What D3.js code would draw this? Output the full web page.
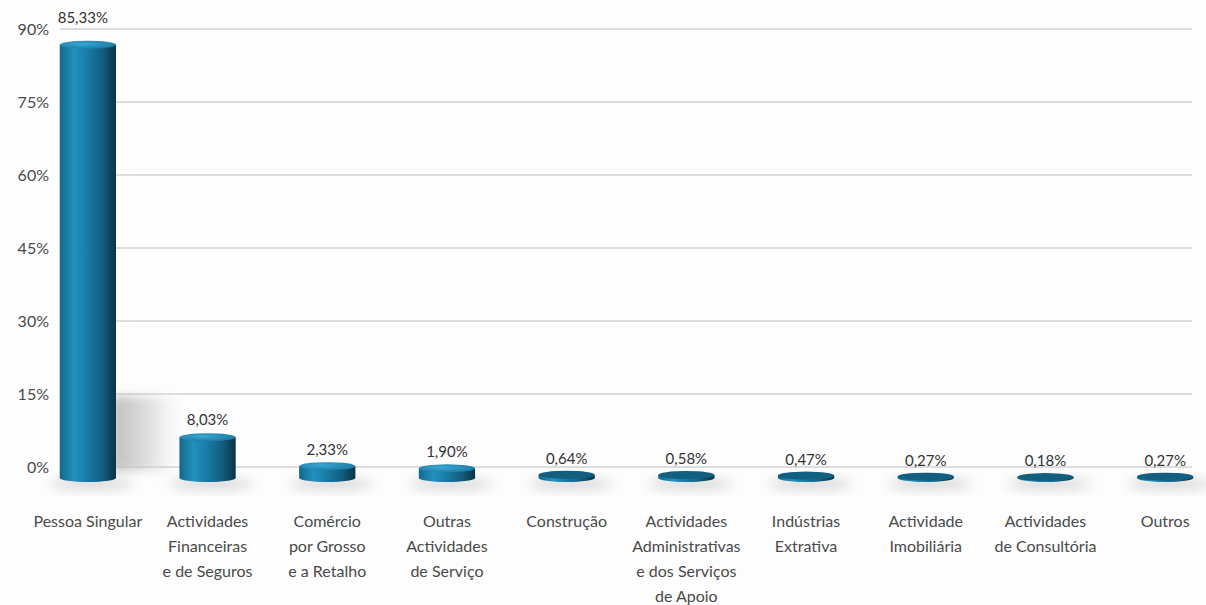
<!DOCTYPE html>
<html>
<head>
<meta charset="utf-8">
<script src="https://cdn.jsdelivr.net/npm/d3@7"></script>
<style>
    body { margin: 0; background: #fdfdfd; }
    text { font-family: Lato, "Open Sans", sans-serif; fill: #4a4a4a; }
    .grid line { stroke: #bdbdbd; stroke-width: 1.2; }
</style>
</head>
<body>
<div id="chart"></div>
<script>
// data
const categories = [
    ["Pessoa Singular"],
    ["Actividades", "Financeiras", "e de Seguros"],
    ["Comércio", "por Grosso", "e a Retalho"],
    ["Outras", "Actividades", "de Serviço"],
    ["Construção"],
    ["Actividades", "Administrativas", "e dos Serviços", "de Apoio"],
    ["Indústrias", "Extrativa"],
    ["Actividade", "Imobiliária"],
    ["Actividades", "de Consultória"],
    ["Outros"]
];
const values = [85.33, 8.03, 2.33, 1.90, 0.64, 0.58, 0.47, 0.27, 0.18, 0.27];
const valueLabels = ["85,33%", "8,03%", "2,33%", "1,90%", "0,64%", "0,58%", "0,47%", "0,27%", "0,18%", "0,27%"];
const yTicks = [0, 15, 30, 45, 60, 75, 90];

const width = 1206, height = 605;

const svg = d3.select("#chart").append("svg")
    .attr("width", width)
    .attr("height", height);

const defs = svg.append("defs");

// cylinder side shading
const sideGrad = defs.append("linearGradient").attr("id", "side").attr("x1", 0).attr("x2", 1).attr("y1", 0).attr("y2", 0);
sideGrad.append("stop").attr("offset", "0%").attr("stop-color", "#14688c");
sideGrad.append("stop").attr("offset", "25%").attr("stop-color", "#2290bd");
sideGrad.append("stop").attr("offset", "45%").attr("stop-color", "#1a7fab");
sideGrad.append("stop").attr("offset", "75%").attr("stop-color", "#125f80");
sideGrad.append("stop").attr("offset", "100%").attr("stop-color", "#0a3346");

const topGrad = defs.append("radialGradient").attr("id", "topg").attr("cx", "40%").attr("cy", "40%").attr("r", "65%");
topGrad.append("stop").attr("offset", "0%").attr("stop-color", "#3aa6d4");
topGrad.append("stop").attr("offset", "100%").attr("stop-color", "#1a7aa3");

// shadow cast by the tall bar
const shadeGrad = defs.append("linearGradient").attr("id", "shade").attr("x1", 0).attr("x2", 1).attr("y1", 0).attr("y2", 0);
shadeGrad.append("stop").attr("offset", "0%").attr("stop-color", "#b4b4b4").attr("stop-opacity", 0.9);
shadeGrad.append("stop").attr("offset", "50%").attr("stop-color", "#c8c8c8").attr("stop-opacity", 0.6);
shadeGrad.append("stop").attr("offset", "100%").attr("stop-color", "#e0e0e0").attr("stop-opacity", 0);

const blur = defs.append("filter").attr("id", "blur").attr("x", "-50%").attr("y", "-50%").attr("width", "200%").attr("height", "200%");
blur.append("feGaussianBlur").attr("stdDeviation", 6);
const blurSoft = defs.append("filter").attr("id", "blurSoft").attr("x", "-30%").attr("y", "-30%").attr("width", "160%").attr("height", "160%");
blurSoft.append("feGaussianBlur").attr("stdDeviation", 5);

// scales
const yGrid = d3.scaleLinear().domain([0, 90]).range([467, 29]);
const yBar = d3.scaleLinear().domain([0, 90]).range([478, 21]);
const x = d3.scaleBand().domain(d3.range(values.length)).range([28, 1225]).paddingInner(0.53).paddingOuter(0.265);
const bw = x.bandwidth();
const ry = 4;

// gridlines
svg.append("g").attr("class", "grid")
    .selectAll("line").data(yTicks).enter().append("line")
    .attr("x1", 60).attr("x2", 1192)
    .attr("y1", d => yGrid(d)).attr("y2", d => yGrid(d));

// y axis labels
svg.append("g").selectAll("text").data(yTicks).enter().append("text")
    .attr("x", 49).attr("y", d => yGrid(d) + 6)
    .attr("text-anchor", "end")
    .style("font-size", "16px")
    .text(d => d + "%");

// shadow behind the tall bar
svg.append("rect")
    .attr("x", x(0) + bw - 4).attr("y", yGrid(14.5))
    .attr("width", 70).attr("height", yGrid(0) - yGrid(14.5) + 4)
    .attr("fill", "url(#shade)")
    .attr("filter", "url(#blurSoft)");

// floor shadows
svg.append("g").selectAll("ellipse").data(values).enter().append("ellipse")
    .attr("cx", (d, i) => x(i) + bw / 2 + 4).attr("cy", yBar(0) + 6)
    .attr("rx", bw * 0.75).attr("ry", 6)
    .attr("fill", "#b5b5b5").attr("opacity", 0.5)
    .attr("filter", "url(#blur)");

// cylinders
const bars = svg.append("g").selectAll("g").data(values).enter().append("g");

bars.append("path")
    .attr("d", (d, i) => {
        const x0 = x(i), x1 = x(i) + bw;
        const yt = yBar(d), yb = yBar(0);
        return "M" + x0 + "," + yt + " L" + x0 + "," + yb +
            " A" + (bw / 2) + "," + ry + " 0 0 0 " + x1 + "," + yb +
            " L" + x1 + "," + yt + " Z";
    })
    .attr("fill", "url(#side)");

bars.append("ellipse")
    .attr("cx", (d, i) => x(i) + bw / 2)
    .attr("cy", d => yBar(d))
    .attr("rx", bw / 2).attr("ry", ry)
    .attr("fill", d => d < 1 ? "#125f80" : "url(#topg)");

// value labels (raised a little more on taller bars, as in the perspective view)
svg.append("g").selectAll("text").data(values).enter().append("text")
    .attr("x", (d, i) => x(i) + bw / 2 - (d > 50 ? 5 : 0))
    .attr("y", d => yBar(d) - 11 - d * 0.12)
    .attr("text-anchor", "middle")
    .style("font-size", "15px")
    .style("fill", "#333")
    .text((d, i) => valueLabels[i]);

// category labels
const cat = svg.append("g").selectAll("text").data(categories).enter().append("text")
    .attr("text-anchor", "middle")
    .style("font-size", "16px")
    .attr("x", (d, i) => x(i) + bw / 2)
    .attr("y", 527);
cat.selectAll("tspan").data(d => d).enter().append("tspan")
    .attr("x", function () { return d3.select(this.parentNode).attr("x"); })
    .attr("dy", (d, j) => j === 0 ? 0 : 25)
    .text(d => d);
</script>
</body>
</html>
